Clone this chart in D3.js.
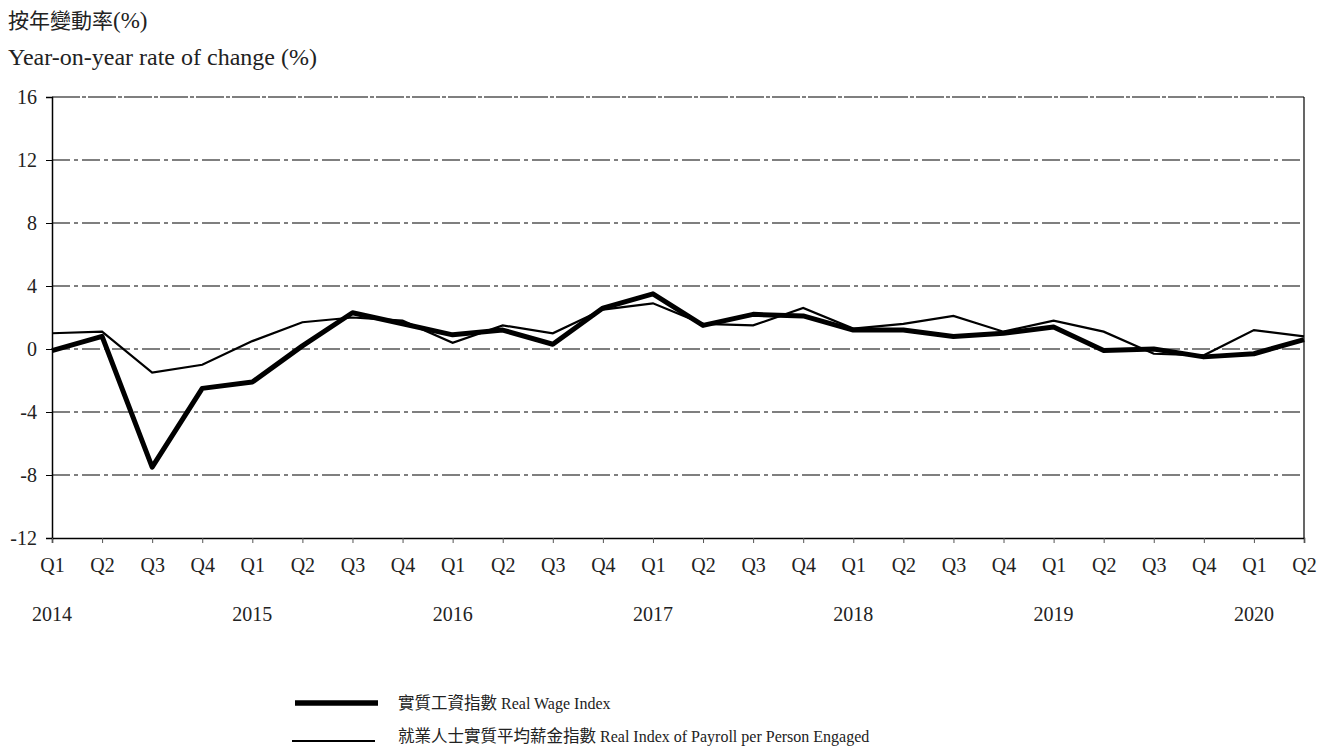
<!DOCTYPE html>
<html><head><meta charset="utf-8">
<script src="https://cdn.jsdelivr.net/npm/d3@7"></script>
<style>body{margin:0;background:#fff}svg{display:block}</style>
</head><body>
<script>
const quarters = ["Q1","Q2","Q3","Q4","Q1","Q2","Q3","Q4","Q1","Q2","Q3","Q4","Q1","Q2","Q3","Q4","Q1","Q2","Q3","Q4","Q1","Q2","Q3","Q4","Q1","Q2"];
const years = ["2014","2015","2016","2017","2018","2019","2020"];
const realWageIndex = [-0.1,0.8,-7.5,-2.5,-2.1,0.2,2.3,1.6,0.9,1.2,0.3,2.6,3.5,1.5,2.2,2.1,1.2,1.2,0.8,1.0,1.4,-0.1,0.0,-0.5,-0.3,0.6];
const payrollIndex = [1.0,1.1,-1.5,-1.0,0.5,1.7,2.0,1.8,0.4,1.5,1.0,2.5,2.9,1.6,1.5,2.6,1.3,1.6,2.1,1.1,1.8,1.1,-0.3,-0.4,1.2,0.8];
const yTicks = [-12,-8,-4,0,4,8,12,16];
const legendCJK = ["實質工資指數","就業人士實質平均薪金指數"];
const legendEN = ["Real Wage Index","Real Index of Payroll per Person Engaged"];

const W=1333,H=746;
const L=52,R=1304,T=97,B=538;
const svg=d3.select("body").append("svg").attr("width",W).attr("height",H);
const font="'Liberation Serif','Noto Sans CJK TC',serif";
const cjk="'Noto Sans CJK TC',sans-serif";

const x=d3.scaleLinear().domain([0,quarters.length-1]).range([L,R]);
const y=d3.scaleLinear().domain([-12,16]).range([B,T]);

// titles
const t1=svg.append("text").attr("x",8).attr("y",28).attr("fill","#222");
t1.append("tspan").attr("font-family",cjk).attr("font-size",21).text("按年變動率");
t1.append("tspan").attr("font-family",font).attr("font-size",23).text("(%)");
svg.append("text").attr("x",8).attr("y",65).attr("font-family",font).attr("font-size",24).attr("fill","#222").text("Year-on-year rate of change (%)");

// grid
svg.append("g").selectAll("line").data(yTicks.filter(d=>d>-12)).join("line")
  .attr("x1",L).attr("x2",R).attr("y1",d=>y(d)).attr("y2",d=>y(d))
  .attr("stroke","#000").attr("stroke-width",1.2)
  .attr("stroke-dasharray",d=>d===16?"28,2,4,2":"18,4,4,4");

// y axis
const ya=svg.append("g").attr("transform",`translate(${L},0)`)
  .call(d3.axisLeft(y).tickValues(yTicks).tickSize(6).tickPadding(9).tickFormat(d=>String(d)));
ya.select(".domain").attr("stroke-width",1.5);
ya.selectAll("text").attr("font-family",font).attr("font-size",20).attr("fill","#222");

// x axis
const xa=svg.append("g").attr("transform",`translate(0,${B})`)
  .call(d3.axisBottom(x).tickValues(d3.range(quarters.length)).tickSize(5).tickFormat(i=>quarters[i]).tickPadding(15));
xa.select(".domain").attr("stroke-width",1.5);
xa.selectAll("text").attr("font-family",font).attr("font-size",20).attr("fill","#222");
xa.selectAll(".tick line").attr("stroke","#555");

// right border
svg.append("line").attr("x1",R).attr("x2",R).attr("y1",T).attr("y2",B).attr("stroke","#000").attr("stroke-width",1.2);

// year labels
svg.append("g").selectAll("text").data(years).join("text")
  .attr("x",(d,i)=>x(i*4)).attr("y",621).attr("text-anchor","middle")
  .attr("font-family",font).attr("font-size",20).attr("fill","#222").text(d=>d);

// lines
const line=d3.line().x((d,i)=>x(i)).y(d=>y(d));
svg.append("path").datum(payrollIndex).attr("d",line).attr("fill","none").attr("stroke","#000").attr("stroke-width",2.2).attr("stroke-linejoin","miter");
svg.append("path").datum(realWageIndex).attr("d",line).attr("fill","none").attr("stroke","#000").attr("stroke-width",5).attr("stroke-linejoin","round");

// legend
const lg=svg.append("g");
const ly=[703,741], lw=[5.5,2.2], lx=[295,292], tb=[709,742];
legendCJK.forEach((t,i)=>{
  lg.append("line").attr("x1",lx[i]).attr("x2",lx[i]+83).attr("y1",ly[i]).attr("y2",ly[i]).attr("stroke","#000").attr("stroke-width",lw[i]);
  const tx=lg.append("text").attr("x",398).attr("y",tb[i]).attr("fill","#222");
  tx.append("tspan").attr("font-family",cjk).attr("font-size",16.5).text(t);
  tx.append("tspan").attr("font-family",font).attr("font-size",16).text(" "+legendEN[i]);
});
</script>
</body></html>
